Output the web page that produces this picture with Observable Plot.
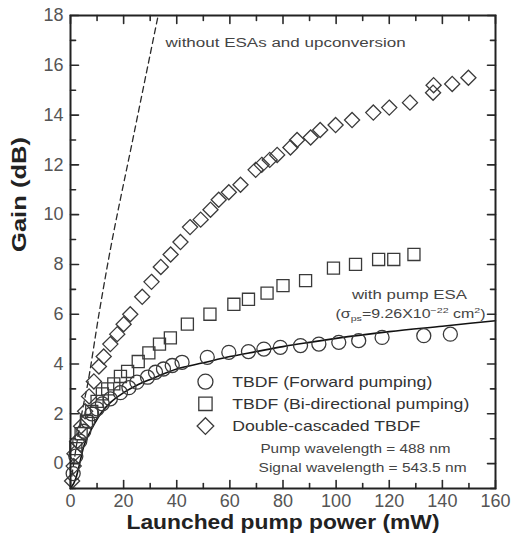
<!DOCTYPE html>
<html><head><meta charset="utf-8">
<script src="https://cdn.jsdelivr.net/npm/d3@7"></script>
<script src="https://cdn.jsdelivr.net/npm/@observablehq/plot@0.6"></script>
<style>body{margin:0;background:#fff;}</style>
</head><body><div id="chart"></div>
<script>
// ---- data ----
const forwardPower = [1,2,3.5,5,6.5,8,10,12,15,18.8,22,25,29,32,35,38.3,42,51.5,59.6,67,72.8,79,86.6,93.5,101,108.5,117.3,133,143];
const forwardGain  = [-0.4,0.3,0.9,1.3,1.7,2.0,2.2,2.4,2.6,2.85,3.05,3.27,3.47,3.67,3.8,3.94,4.07,4.27,4.47,4.5,4.6,4.67,4.74,4.8,4.87,4.94,5.07,5.14,5.2];

const biPower = [2,4,6,8,10,12,14,16.3,18.8,21.5,25.5,29.5,33.5,37.6,44,52.5,61.5,67,74,80,88.5,99,107.3,116,121.7,129.3];
const biGain  = [0.6,1.2,1.7,2.1,2.5,2.8,3.0,3.2,3.5,3.7,4.1,4.45,4.8,5.05,5.6,6.0,6.4,6.6,6.85,7.15,7.35,7.85,8.0,8.2,8.2,8.4];

const dcPower = [0.6,1.2,1.5,2.5,4,5.5,7,8.8,10.7,12.5,15,17.6,20,22.5,27,30.5,34,37.7,41.4,45,49,52.7,55.8,59.6,64,69.7,72,75,77.8,82.8,85.3,90.4,94,99.8,106,114,120,127.8,136.5,136.7,143.7,149.8];
const dcGain  = [-0.7,-0.1,0.4,0.9,1.5,2.1,2.7,3.3,3.9,4.3,4.8,5.2,5.6,6.0,6.7,7.3,7.9,8.4,8.9,9.5,9.8,10.2,10.6,10.9,11.2,11.8,12.0,12.2,12.4,12.7,13.0,13.1,13.4,13.6,13.8,14.1,14.3,14.5,14.9,15.2,15.25,15.5];

const esaPower = [0,2,3,5,7,9,12,15,20,25,30,40,50,60,70,80,90,100,120,140,160];
const esaGain  = [-1,-0.6,-0.2,0.7,1.2,1.6,2.1,2.45,2.85,3.15,3.38,3.8,4.05,4.3,4.5,4.7,4.87,5.03,5.3,5.52,5.74];

const noEsaPower = [0.5,4.4,6.3,10.7,13.8,23.8,33];
const noEsaGain  = [-0.5,2.1,3.1,6.0,7.9,13.2,18];

const xMajor = [0,20,40,60,80,100,120,140,160];
const xMinor = [10,30,50,70,90,110,130,150];
const yMajor = [0,2,4,6,8,10,12,14,16,18];
const yMinor = [-1,1,3,5,7,9,11,13,15,17];

const seriesNames = ["TBDF (Forward pumping)","TBDF (Bi-directional pumping)","Double-cascaded TBDF"];
const seriesSymbols = ["circle","square","diamond2"];
const noteLines = ["Pump wavelength = 488 nm","Signal wavelength = 543.5 nm"];
const xTitle = "Launched pump power (mW)";
const yTitle = "Gain (dB)";
const noEsaLabel = "without ESAs and upconversion";
const esaLabel = "with pump ESA";
const sigmaLabel = "(σps=9.26X10-22 cm2)";

// ---- build tables ----
const zip = (xs, ys) => xs.map((x, i) => ({x, y: ys[i]}));
const forward = zip(forwardPower, forwardGain);
const bi = zip(biPower, biGain);
const dc = zip(dcPower, dcGain);
const esa = zip(esaPower, esaGain);
const noEsa = zip(noEsaPower, noEsaGain);

const W = 511, H = 545, mL = 70, mR = 16, mT = 15, mB = 57;
const ink = "#2a2a2a";
const mk = "#3a3a3a";

const legendRows = seriesNames.map((name, i) => ({name, symbol: seriesSymbols[i], i}));
const legX = 50.8, legTextX = 60.9, legY0 = 3.29, legStep = 0.89;

// inward tick marks drawn as vectors with a plain line shape
const tickShape = {draw(context, l) { context.moveTo(0, 0); context.lineTo(0, -l); }};
const tk = (data, ch, anchor, rotate, len) => Plot.vector(data, {
  [ch]: d => d, frameAnchor: anchor, rotate, length: len, anchor: "start",
  shape: tickShape, stroke: ink, strokeWidth: 1.6
});

const chart = Plot.plot({
  width: W, height: H,
  marginLeft: mL, marginRight: mR, marginTop: mT, marginBottom: mB,
  style: {fontFamily: "'Liberation Sans', Arial, sans-serif", background: "#fff", overflow: "visible"},
  x: {domain: [0, 160], label: null},
  y: {domain: [-1, 18], label: null},
  marks: [
    tk(xMajor, "x", "bottom", 0, 8), tk(xMinor, "x", "bottom", 0, 5),
    tk(xMajor, "x", "top", 180, 8), tk(xMinor, "x", "top", 180, 5),
    tk(yMajor, "y", "left", 90, 8), tk(yMinor, "y", "left", 90, 5),
    tk(yMajor, "y", "right", -90, 8), tk(yMinor, "y", "right", -90, 5),
    Plot.axisX({ticks: xMajor, tickSize: 0, tickPadding: 6, label: null, fontSize: 18, fill: "#555", tickFormat: d => d}),
    Plot.axisY({ticks: yMajor, tickSize: 0, tickPadding: 7, label: null, fontSize: 18, fill: "#555", tickFormat: d => d}),
    // lines
    Plot.line(noEsa, {x: "x", y: "y", stroke: ink, strokeWidth: 1.3, strokeDasharray: "6,4", curve: "monotone-x"}),
    Plot.line(esa, {x: "x", y: "y", stroke: "#111", strokeWidth: 1.6, curve: "monotone-x"}),
    // markers
    Plot.dot(forward, {x: "x", y: "y", symbol: "circle", r: 7, stroke: mk, strokeWidth: 1.3, fill: "none"}),
    Plot.dot(bi, {x: "x", y: "y", symbol: "square", r: 6.8, stroke: mk, strokeWidth: 1.3, fill: "none"}),
    Plot.dot(dc, {x: "x", y: "y", symbol: "diamond2", r: 6.8, stroke: mk, strokeWidth: 1.3, fill: "none"}),
    // legend
    Plot.dot(legendRows, {x: () => legX, y: d => legY0 - d.i * legStep, symbol: "symbol", r: 7.5, stroke: mk, strokeWidth: 1.3, fill: "none"}),
    Plot.text(legendRows, {x: () => legTextX, y: d => legY0 - d.i * legStep, text: "name", textAnchor: "start", fontSize: 15, fill: "#333"}),
    Plot.text(noteLines, {x: (d, i) => [71.5, 70.8][i], y: (d, i) => [0.6, -0.16][i], text: d => d, textAnchor: "start", fontSize: 12.5, fill: "#444"}),
    // annotations
    Plot.text([noEsaLabel], {x: 35.8, y: 16.9, text: d => d, textAnchor: "start", fontSize: 12, fill: "#444"}),
    Plot.text([esaLabel], {x: 127.6, y: 6.75, text: d => d, textAnchor: "middle", fontSize: 12, fill: "#444"}),
    Plot.text([sigmaLabel], {x: 128, y: 6.0, text: d => d, textAnchor: "middle", fontSize: 12, fill: "#444"}),
    // axis titles
    Plot.text([xTitle], {frameAnchor: "bottom", dy: 40, text: d => d, fontSize: 20, fontWeight: "bold", fill: "#222"}),
    Plot.text([yTitle], {frameAnchor: "left", dx: -51, rotate: -90, text: d => d, fontSize: 20, fontWeight: "bold", fill: "#222"}),
    Plot.frame({stroke: "#222", strokeWidth: 2})
  ]
});

document.getElementById("chart").appendChild(chart);

// stretch texts horizontally like the reference (wide letterforms)
const widths = new Map([
  [seriesNames[0], 200], [seriesNames[1], 237], [seriesNames[2], 188],
  [noteLines[0], 190], [noteLines[1], 208],
  [noEsaLabel, 240], [esaLabel, 115], [sigmaLabel, 150],
  [xTitle, 313], [yTitle, 115]
]);
d3.select(chart).selectAll("text").each(function() {
  const t = this.textContent;
  if (widths.has(t)) {
    const el = d3.select(this);
    if (t === sigmaLabel) {
      el.text(null);
      const parts = [["(σ",0,12],["ps",3,8],["=9.26X10",-3,12],["−22",-5,8],[" cm",5,12],["2",-5,8],[")",5,12]];
      parts.forEach(([s, dy, fs]) => el.append("tspan").attr("dy", dy).attr("font-size", fs).text(s));
    }
    el.attr("textLength", widths.get(t)).attr("lengthAdjust", "spacingAndGlyphs");
  }
});
</script></body></html>
